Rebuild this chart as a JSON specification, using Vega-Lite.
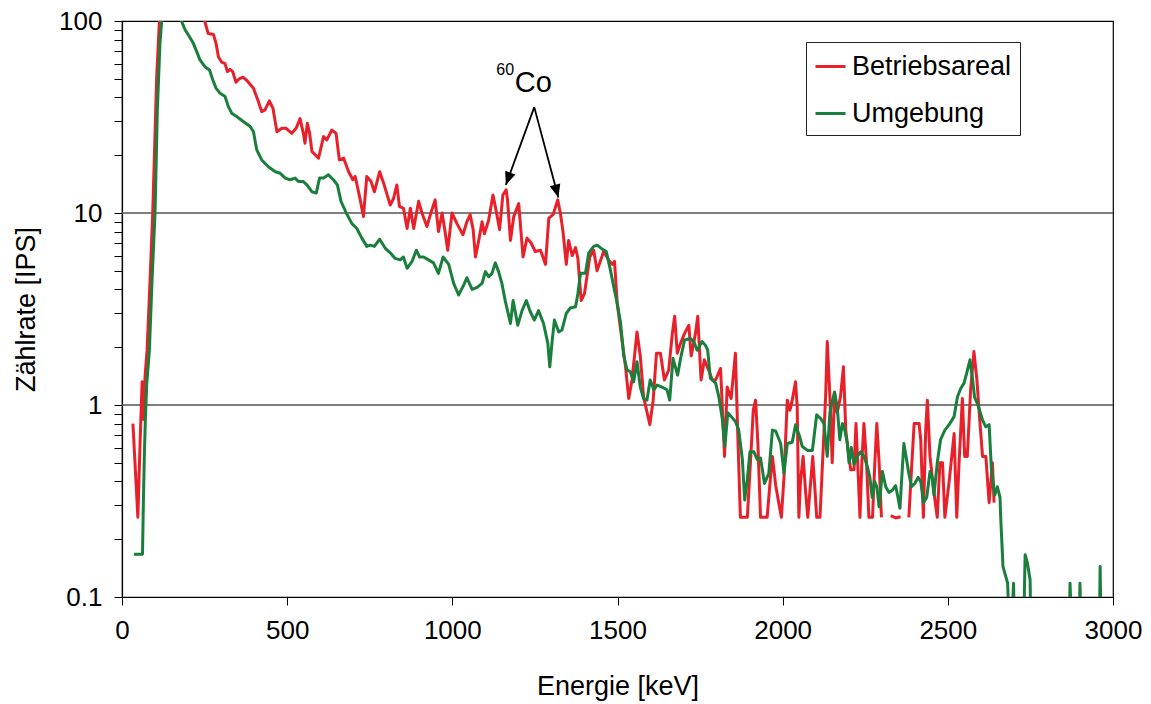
{
  "$schema": "https://vega.github.io/schema/vega-lite/v6.json",
  "width": 991,
  "height": 576,
  "autosize": {"type": "none"},
  "padding": {"left": 122, "top": 21, "right": 38, "bottom": 107},
  "background": "white",
  "config": {
    "font": "Liberation Sans",
    "view": {"stroke": "#000", "strokeWidth": 1.2},
    "axis": {"domainColor": "#000", "tickColor": "#000", "labelColor": "#000", "titleColor": "#000", "labelFont": "Liberation Sans", "titleFont": "Liberation Sans", "titleFontWeight": "normal", "grid": false}
  },
  "datasets": {
    "red": [
      {"x":33,"y":0.8},{"x":42,"y":0.41},{"x":48,"y":0.26},{"x":55,"y":0.66},{"x":61,"y":1.32},{"x":65,"y":0.84},{"x":70,"y":1.43},{"x":76,"y":1.93},{"x":85,"y":4.5},{"x":93,"y":10},{"x":105,"y":51},{"x":113,"y":98},{"x":130,"y":140},{"x":160,"y":170},{"x":200,"y":150},{"x":240,"y":115},{"x":251,"y":99},{"x":261,"y":86},{"x":277,"y":85},{"x":285,"y":76},{"x":292,"y":65},{"x":302,"y":61},{"x":312,"y":60},{"x":319,"y":54.5},{"x":327,"y":56},{"x":335,"y":54.5},{"x":345,"y":48},{"x":355,"y":50},{"x":366,"y":51},{"x":378,"y":49},{"x":398,"y":44.6},{"x":413,"y":38},{"x":423,"y":33.7},{"x":433,"y":34.4},{"x":446,"y":38.4},{"x":457,"y":35.1},{"x":469,"y":26.5},{"x":484,"y":27.6},{"x":497,"y":27.6},{"x":514,"y":26},{"x":527,"y":27.6},{"x":539,"y":31},{"x":549,"y":26},{"x":554,"y":23.1},{"x":561,"y":29.3},{"x":568,"y":26},{"x":575,"y":20.9},{"x":595,"y":19.3},{"x":610,"y":25},{"x":620,"y":24},{"x":635,"y":27},{"x":648,"y":26},{"x":658,"y":18.9},{"x":671,"y":19.3},{"x":686,"y":16.4},{"x":699,"y":14.9},{"x":706,"y":15.5},{"x":719,"y":12.2},{"x":731,"y":9.6},{"x":741,"y":15.5},{"x":754,"y":14.6},{"x":764,"y":12.9},{"x":780,"y":16.4},{"x":792,"y":14.3},{"x":812,"y":11},{"x":822,"y":11.9},{"x":832,"y":14},{"x":840,"y":10.8},{"x":852,"y":10.6},{"x":863,"y":8.3},{"x":873,"y":10.6},{"x":883,"y":8.3},{"x":898,"y":11.5},{"x":908,"y":10},{"x":923,"y":8.5},{"x":935,"y":10},{"x":948,"y":11.7},{"x":958,"y":8},{"x":969,"y":10},{"x":979,"y":7.8},{"x":986,"y":6.4},{"x":999,"y":10},{"x":1014,"y":8.8},{"x":1032,"y":7.7},{"x":1044,"y":9},{"x":1054,"y":9.8},{"x":1063,"y":8.2},{"x":1070,"y":5.9},{"x":1080,"y":7.2},{"x":1090,"y":9},{"x":1097,"y":7.8},{"x":1110,"y":9.2},{"x":1123,"y":12.4},{"x":1133,"y":10.2},{"x":1143,"y":8.2},{"x":1153,"y":12.4},{"x":1163,"y":13.2},{"x":1167,"y":11.7},{"x":1176,"y":7.2},{"x":1186,"y":9.6},{"x":1201,"y":11.2},{"x":1214,"y":5.9},{"x":1226,"y":7.4},{"x":1238,"y":7},{"x":1251,"y":6.3},{"x":1267,"y":6.4},{"x":1282,"y":5.4},{"x":1292,"y":9.4},{"x":1305,"y":9.8},{"x":1319,"y":11.7},{"x":1327,"y":10},{"x":1335,"y":8},{"x":1345,"y":5.4},{"x":1352,"y":7.2},{"x":1363,"y":6},{"x":1373,"y":6.6},{"x":1380,"y":5.8},{"x":1390,"y":3.5},{"x":1400,"y":3.8},{"x":1416,"y":5.9},{"x":1428,"y":6.4},{"x":1438,"y":5},{"x":1458,"y":6.3},{"x":1473,"y":5.7},{"x":1484,"y":5.4},{"x":1491,"y":5.6},{"x":1499,"y":3.4},{"x":1509,"y":2.5},{"x":1524,"y":1.6},{"x":1534,"y":1.08},{"x":1544,"y":1.35},{"x":1559,"y":2.4},{"x":1569,"y":1.8},{"x":1579,"y":1.1},{"x":1598,"y":0.79},{"x":1608,"y":1.06},{"x":1618,"y":1.86},{"x":1630,"y":1.86},{"x":1642,"y":1.35},{"x":1655,"y":1.52},{"x":1666,"y":2.36},{"x":1673,"y":2.9},{"x":1681,"y":1.86},{"x":1691,"y":2.1},{"x":1703,"y":2.36},{"x":1716,"y":2.6},{"x":1723,"y":1.8},{"x":1736,"y":2.36},{"x":1743,"y":2.9},{"x":1753,"y":1.35},{"x":1763,"y":1.72},{"x":1776,"y":1.52},{"x":1787,"y":1.35},{"x":1797,"y":1.35},{"x":1812,"y":1.55},{"x":1824,"y":0.54},{"x":1832,"y":1.24},{"x":1844,"y":1.08},{"x":1857,"y":1.86},{"x":1864,"y":0.71},{"x":1872,"y":0.26},{"x":1893,"y":0.26},{"x":1903,"y":0.52},{"x":1911,"y":0.94},{"x":1918,"y":1.06},{"x":1925,"y":0.63},{"x":1933,"y":0.26},{"x":1953,"y":0.26},{"x":1961,"y":0.38},{"x":1969,"y":0.54},{"x":1979,"y":0.38},{"x":1996,"y":0.26},{"x":2004,"y":0.42},{"x":2014,"y":1.06},{"x":2022,"y":0.94},{"x":2029,"y":1.06},{"x":2039,"y":1.32},{"x":2044,"y":0.98},{"x":2049,"y":0.26},{"x":2054,"y":0.4},{"x":2062,"y":0.54},{"x":2069,"y":0.36},{"x":2076,"y":0.26},{"x":2085,"y":0.4},{"x":2091,"y":0.54},{"x":2097,"y":0.38},{"x":2103,"y":0.26},{"x":2113,"y":0.26},{"x":2123,"y":0.61},{"x":2130,"y":1.1},{"x":2135,"y":2.14},{"x":2143,"y":1.1},{"x":2150,"y":0.5},{"x":2157,"y":1.15},{"x":2165,"y":0.91},{"x":2175,"y":1.1},{"x":2184,"y":1.58},{"x":2191,"y":0.74},{"x":2198,"y":0.58},{"x":2206,"y":0.46},{"x":2216,"y":0.46},{"x":2222,"y":0.8},{"x":2228,"y":0.46},{"x":2234,"y":0.26},{"x":2240,"y":0.52},{"x":2246,"y":0.8},{"x":2254,"y":0.5},{"x":2261,"y":0.26},{"x":2272,"y":0.26},{"x":2279,"y":0.5},{"x":2285,"y":0.8},{"x":2292,"y":0.5},{"x":2299,"y":0.26},{"x":2305,"y":null},{"x":2327,"y":0.265},{"x":2342,"y":0.258},{"x":2357,"y":0.262},{"x":2362,"y":null},{"x":2382,"y":0.26},{"x":2390,"y":0.46},{"x":2398,"y":0.8},{"x":2413,"y":0.8},{"x":2418,"y":0.66},{"x":2426,"y":0.26},{"x":2433,"y":0.74},{"x":2438,"y":1.06},{"x":2446,"y":0.54},{"x":2458,"y":0.35},{"x":2468,"y":0.26},{"x":2476,"y":0.5},{"x":2484,"y":0.5},{"x":2491,"y":0.26},{"x":2504,"y":0.4},{"x":2519,"y":0.71},{"x":2527,"y":0.26},{"x":2534,"y":0.5},{"x":2544,"y":1.08},{"x":2551,"y":0.54},{"x":2559,"y":0.54},{"x":2569,"y":1.2},{"x":2579,"y":1.9},{"x":2588,"y":1.35},{"x":2595,"y":0.91},{"x":2605,"y":0.54},{"x":2615,"y":0.54},{"x":2625,"y":0.31},{"x":2630,"y":0.39},{"x":2635,"y":0.5},{"x":2640,"y":0.31}
    ],
    "green": [
      {"x":36,"y":0.167},{"x":62,"y":0.167},{"x":65,"y":0.33},{"x":68,"y":0.58},{"x":71,"y":0.87},{"x":75,"y":1.3},{"x":80,"y":1.66},{"x":83,"y":1.93},{"x":91,"y":4.5},{"x":100,"y":10},{"x":107,"y":34.4},{"x":115,"y":77},{"x":120,"y":99},{"x":135,"y":125},{"x":150,"y":130},{"x":165,"y":115},{"x":181,"y":99},{"x":191,"y":90},{"x":201,"y":84.6},{"x":216,"y":76.5},{"x":228,"y":68},{"x":236,"y":62.7},{"x":251,"y":57.8},{"x":265,"y":55.6},{"x":275,"y":49.3},{"x":285,"y":44.6},{"x":297,"y":42},{"x":312,"y":40.4},{"x":322,"y":35.8},{"x":332,"y":33.1},{"x":347,"y":31.8},{"x":368,"y":29.9},{"x":388,"y":28.2},{"x":398,"y":26.5},{"x":408,"y":21.3},{"x":423,"y":18.9},{"x":443,"y":17.4},{"x":464,"y":16.4},{"x":479,"y":16.1},{"x":494,"y":15.2},{"x":509,"y":14.9},{"x":524,"y":15.2},{"x":534,"y":14.6},{"x":548,"y":14.6},{"x":560,"y":14},{"x":575,"y":12.9},{"x":588,"y":12.7},{"x":598,"y":15.2},{"x":610,"y":15.2},{"x":625,"y":15.8},{"x":640,"y":14.9},{"x":652,"y":14},{"x":663,"y":11.5},{"x":679,"y":10},{"x":696,"y":8.8},{"x":711,"y":8.3},{"x":726,"y":7.4},{"x":741,"y":6.7},{"x":751,"y":6.8},{"x":764,"y":6.7},{"x":780,"y":7.3},{"x":797,"y":6.55},{"x":812,"y":6.2},{"x":827,"y":5.8},{"x":842,"y":5.7},{"x":852,"y":5.9},{"x":863,"y":5.15},{"x":878,"y":5.6},{"x":891,"y":6.4},{"x":901,"y":5.9},{"x":913,"y":5.9},{"x":928,"y":5.7},{"x":943,"y":5.5},{"x":958,"y":4.85},{"x":972,"y":5.9},{"x":989,"y":5.4},{"x":1004,"y":4.3},{"x":1019,"y":3.74},{"x":1034,"y":4.2},{"x":1044,"y":4.6},{"x":1060,"y":4},{"x":1075,"y":4.1},{"x":1090,"y":4.3},{"x":1100,"y":4.95},{"x":1110,"y":4.66},{"x":1120,"y":4.85},{"x":1130,"y":5.5},{"x":1140,"y":4.95},{"x":1150,"y":4.3},{"x":1160,"y":3.5},{"x":1176,"y":2.66},{"x":1184,"y":3.5},{"x":1198,"y":2.6},{"x":1211,"y":3.1},{"x":1224,"y":3.5},{"x":1236,"y":3.06},{"x":1248,"y":2.77},{"x":1261,"y":3.1},{"x":1276,"y":2.66},{"x":1289,"y":2.1},{"x":1295,"y":1.58},{"x":1302,"y":2.14},{"x":1309,"y":2.77},{"x":1322,"y":2.4},{"x":1332,"y":2.46},{"x":1345,"y":3},{"x":1357,"y":3.2},{"x":1373,"y":3.25},{"x":1380,"y":3.8},{"x":1388,"y":4.85},{"x":1403,"y":4.85},{"x":1413,"y":6.2},{"x":1428,"y":6.7},{"x":1438,"y":6.8},{"x":1453,"y":6.5},{"x":1466,"y":6.3},{"x":1479,"y":5},{"x":1489,"y":4.1},{"x":1499,"y":3.4},{"x":1509,"y":2.7},{"x":1519,"y":1.8},{"x":1529,"y":1.52},{"x":1539,"y":1.49},{"x":1549,"y":1.32},{"x":1559,"y":1.68},{"x":1569,"y":1.24},{"x":1579,"y":1.08},{"x":1589,"y":1.06},{"x":1599,"y":1.35},{"x":1610,"y":1.2},{"x":1620,"y":1.27},{"x":1635,"y":1.24},{"x":1650,"y":1.2},{"x":1658,"y":1.06},{"x":1668,"y":1.75},{"x":1675,"y":1.58},{"x":1682,"y":1.43},{"x":1691,"y":1.75},{"x":1703,"y":2.18},{"x":1721,"y":2.22},{"x":1731,"y":2.14},{"x":1741,"y":1.93},{"x":1756,"y":2.14},{"x":1766,"y":2.05},{"x":1773,"y":1.93},{"x":1781,"y":1.38},{"x":1797,"y":1.3},{"x":1807,"y":1.1},{"x":1817,"y":0.85},{"x":1825,"y":0.61},{"x":1834,"y":0.91},{"x":1844,"y":0.87},{"x":1857,"y":0.82},{"x":1867,"y":0.74},{"x":1878,"y":0.52},{"x":1885,"y":0.32},{"x":1893,"y":0.41},{"x":1901,"y":0.57},{"x":1913,"y":0.57},{"x":1923,"y":0.52},{"x":1933,"y":0.53},{"x":1945,"y":0.39},{"x":1958,"y":0.44},{"x":1969,"y":0.74},{"x":1979,"y":0.73},{"x":1994,"y":0.63},{"x":2004,"y":0.44},{"x":2014,"y":0.63},{"x":2029,"y":0.64},{"x":2039,"y":0.79},{"x":2052,"y":0.68},{"x":2059,"y":0.61},{"x":2075,"y":0.58},{"x":2090,"y":0.58},{"x":2103,"y":0.89},{"x":2115,"y":0.85},{"x":2125,"y":0.8},{"x":2135,"y":0.54},{"x":2143,"y":0.91},{"x":2150,"y":1.04},{"x":2157,"y":1.17},{"x":2165,"y":0.98},{"x":2173,"y":0.66},{"x":2181,"y":0.8},{"x":2188,"y":0.74},{"x":2196,"y":0.63},{"x":2201,"y":0.5},{"x":2208,"y":0.6},{"x":2216,"y":0.49},{"x":2226,"y":0.54},{"x":2236,"y":0.57},{"x":2246,"y":0.54},{"x":2256,"y":0.48},{"x":2264,"y":0.42},{"x":2271,"y":0.33},{"x":2278,"y":0.4},{"x":2285,"y":0.375},{"x":2292,"y":0.295},{"x":2302,"y":0.45},{"x":2312,"y":0.375},{"x":2322,"y":0.35},{"x":2332,"y":0.36},{"x":2342,"y":0.38},{"x":2349,"y":0.33},{"x":2355,"y":0.29},{"x":2362,"y":0.46},{"x":2367,"y":0.63},{"x":2375,"y":0.52},{"x":2382,"y":0.44},{"x":2390,"y":0.375},{"x":2400,"y":0.39},{"x":2410,"y":0.42},{"x":2418,"y":0.4},{"x":2426,"y":0.31},{"x":2436,"y":0.33},{"x":2446,"y":0.45},{"x":2453,"y":0.415},{"x":2458,"y":0.34},{"x":2468,"y":0.5},{"x":2478,"y":0.66},{"x":2491,"y":0.74},{"x":2504,"y":0.79},{"x":2519,"y":0.87},{"x":2529,"y":1.1},{"x":2539,"y":1.22},{"x":2549,"y":1.3},{"x":2557,"y":1.46},{"x":2567,"y":1.72},{"x":2574,"y":1.4},{"x":2581,"y":1.1},{"x":2591,"y":1.0},{"x":2605,"y":0.835},{"x":2615,"y":0.77},{"x":2625,"y":0.79},{"x":2632,"y":0.46},{"x":2642,"y":0.34},{"x":2650,"y":0.375},{"x":2658,"y":0.33},{"x":2660,"y":0.26},{"x":2667,"y":0.144},{"x":2681,"y":0.118},{"x":2689,"y":0.05},{"x":2699,"y":0.118},{"x":2703,"y":0.05},{"x":2728,"y":0.05},{"x":2734,"y":0.166},{"x":2741,"y":0.15},{"x":2749,"y":0.123},{"x":2753,"y":0.05},{"x":2866,"y":0.05},{"x":2870,"y":0.118},{"x":2877,"y":0.05},{"x":2897,"y":0.05},{"x":2900,"y":0.118},{"x":2905,"y":0.05},{"x":2958,"y":0.05},{"x":2961,"y":0.144},{"x":2965,"y":0.05}
    ]
  },
  "layer": [
    {
      "data": {"values": [{"y": 1}, {"y": 10}]},
      "mark": {"type": "rule", "color": "#555555", "strokeWidth": 1.3},
      "encoding": {
        "y": {"field": "y", "type": "quantitative", "scale": {"type": "log", "domain": [0.1, 100], "nice": false}}
      }
    },
    {
      "data": {"name": "red"},
      "mark": {"type": "line", "clip": true, "strokeWidth": 3, "strokeJoin": "round", "interpolate": "linear"},
      "encoding": {
        "x": {"field": "x", "type": "quantitative",
          "scale": {"domain": [0, 3000], "nice": false, "zero": false},
          "axis": {"title": "Energie [keV]", "values": [0, 500, 1000, 1500, 2000, 2500, 3000], "format": "d", "labelFontSize": 26, "titleFontSize": 27, "tickSize": 8, "labelPadding": 12, "titlePadding": 30, "labelFlush": false, "labelOverlap": false, "domainWidth": 1.2}},
        "y": {"field": "y", "type": "quantitative",
          "scale": {"type": "log", "domain": [0.1, 100], "nice": false},
          "axis": {"title": "Zählrate [IPS]", "values": [0.1,0.2,0.3,0.4,0.5,0.6,0.7,0.8,0.9,1,2,3,4,5,6,7,8,9,10,20,30,40,50,60,70,80,90,100],
            "labelExpr": "datum.value == 0.1 ? '0.1' : (datum.value == 1 || datum.value == 10 || datum.value == 100) ? format(datum.value, 'd') : ''",
            "labelFontSize": 26, "titleFontSize": 27, "tickSize": 8, "labelPadding": 12, "titlePadding": 18, "labelOverlap": false, "labelFlush": false, "domainWidth": 1.2}},
        "color": {"datum": "Betriebsareal", "type": "nominal",
          "scale": {"domain": ["Betriebsareal", "Umgebung"], "range": ["#E8202A", "#1A7F3C"]},
          "legend": {"orient": "none", "legendX": 684, "legendY": 21, "title": null, "strokeColor": "#222", "fillColor": "white", "padding": 8, "symbolType": "stroke", "symbolSize": 900, "symbolStrokeWidth": 3, "labelFontSize": 27, "labelFont": "Liberation Sans", "labelColor": "#000", "rowPadding": 17, "labelOffset": 5, "labelLimit": 400}}
      }
    },
    {
      "data": {"name": "green"},
      "mark": {"type": "line", "clip": true, "strokeWidth": 3, "strokeJoin": "round", "interpolate": "linear"},
      "encoding": {
        "x": {"field": "x", "type": "quantitative"},
        "y": {"field": "y", "type": "quantitative"},
        "color": {"datum": "Umgebung", "type": "nominal"}
      }
    },
    {
      "data": {"values": [{"x": 1248, "y": 35.6, "x2": 1162, "y2": 14.0}, {"x": 1248, "y": 35.6, "x2": 1321, "y2": 12.05}]},
      "mark": {"type": "rule", "color": "#000", "strokeWidth": 1.8},
      "encoding": {
        "x": {"field": "x", "type": "quantitative"},
        "y": {"field": "y", "type": "quantitative"},
        "x2": {"field": "x2"},
        "y2": {"field": "y2"}
      }
    },
    {
      "data": {"values": [{"x": 1162, "y": 14.0}]},
      "mark": {"type": "point", "shape": "M0,0L-0.42,-1L0.42,-1Z", "size": 676, "filled": true, "color": "#000", "opacity": 1, "angle": 20, "strokeWidth": 0},
      "encoding": {
        "x": {"field": "x", "type": "quantitative"},
        "y": {"field": "y", "type": "quantitative"}
      }
    },
    {
      "data": {"values": [{"x": 1321, "y": 12.05}]},
      "mark": {"type": "point", "shape": "M0,0L-0.42,-1L0.42,-1Z", "size": 676, "filled": true, "color": "#000", "opacity": 1, "angle": 345, "strokeWidth": 0},
      "encoding": {
        "x": {"field": "x", "type": "quantitative"},
        "y": {"field": "y", "type": "quantitative"}
      }
    },
    {
      "data": {"values": [{"x": 1245, "y": 47.5, "t": "Co"}]},
      "mark": {"type": "text", "fontSize": 29, "font": "Liberation Sans", "color": "#000", "align": "center", "baseline": "middle"},
      "encoding": {
        "x": {"field": "x", "type": "quantitative"},
        "y": {"field": "y", "type": "quantitative"},
        "text": {"field": "t"}
      }
    },
    {
      "data": {"values": [{"x": 1160, "y": 55.6, "t": "60"}]},
      "mark": {"type": "text", "fontSize": 16, "font": "Liberation Sans", "color": "#000", "align": "center", "baseline": "middle"},
      "encoding": {
        "x": {"field": "x", "type": "quantitative"},
        "y": {"field": "y", "type": "quantitative"},
        "text": {"field": "t"}
      }
    }
  ]
}
